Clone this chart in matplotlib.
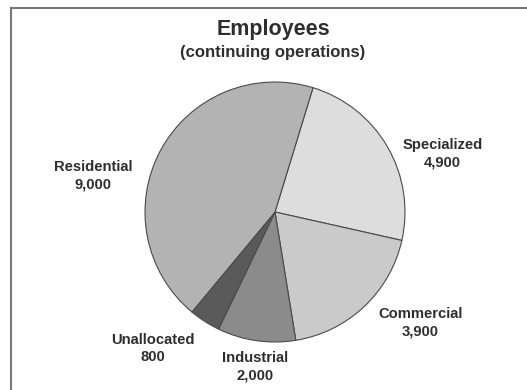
import matplotlib
matplotlib.use("Agg")
import matplotlib.pyplot as plt
from matplotlib.lines import Line2D

plt.rcParams['font.family'] = ['Liberation Sans', 'DejaVu Sans']

# employees by segment, drawn clockwise from the top
segments = ["Specialized", "Commercial", "Industrial", "Unallocated", "Residential"]
employees = [4900, 3900, 2000, 800, 9000]
colors = ["#dddddd", "#cacaca", "#8b8b8b", "#5a5a5a", "#b3b3b3"]
# label anchor per segment (radius units from pie centre)
label_pos = [(1.29, 0.45), (1.12, -0.85), (-0.15, -1.19), (-0.94, -1.05), (-1.40, 0.28)]

W, H = 527, 390
fig = plt.figure(figsize=(W / 100, H / 100), dpi=100)
fig.patch.set_facecolor("white")

# pie centre at (275, 212) px, radius 130 px
cx, cy, r = 275, 212, 130
ax = fig.add_axes([(cx - r) / W, (H - cy - r) / H, 2 * r / W, 2 * r / H])
ax.pie(employees, colors=colors, startangle=73, counterclock=False, radius=1,
       wedgeprops=dict(edgecolor="#4a4a4a", linewidth=0.8))
ax.set_xlim(-1, 1)
ax.set_ylim(-1, 1)
ax.set_aspect("equal")
ax.axis("off")

for name, val, (lx, ly) in zip(segments, employees, label_pos):
    ax.text(lx, ly, f"{name}\n{val:,}", ha="center", va="center", fontsize=10.6,
            fontweight="bold", color="#2e2e2e", linespacing=1.35, clip_on=False)

fig.text(273 / W, 1 - 30 / H, "Employees", ha="center", va="center",
         fontsize=15.5, fontweight="bold", color="#2e2e2e")
fig.text(273 / W, 1 - 53 / H, "(continuing operations)", ha="center", va="center",
         fontsize=12, fontweight="bold", color="#2e2e2e")

# open frame along the top and left
fx, fy = 10.5 / W, 1 - 7.5 / H
fig.add_artist(Line2D([fx, 1], [fy, fy], transform=fig.transFigure, color="#777777", lw=1.5))
fig.add_artist(Line2D([fx, fx], [0, fy], transform=fig.transFigure, color="#777777", lw=1.5))

fig.savefig("out.png", dpi=100)
